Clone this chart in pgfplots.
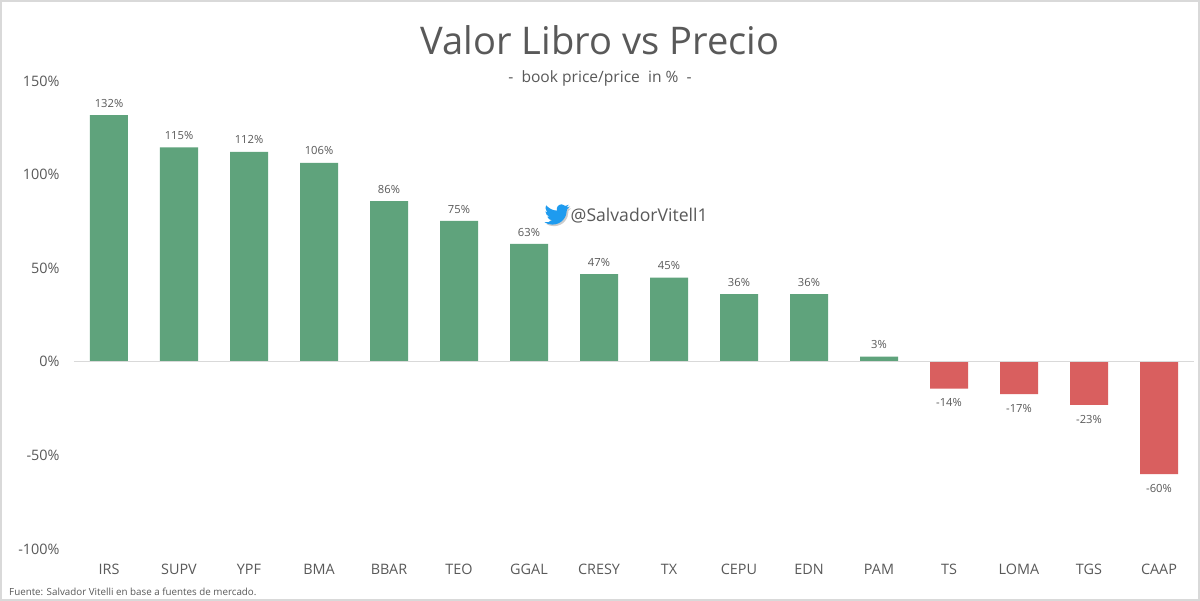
\documentclass[border=0pt]{standalone}
\usepackage{pgfplots}
\pgfplotsset{compat=1.18}
\usepackage{fontspec}
\setmainfont{Open Sans}
\usetikzlibrary{svg.path}
\definecolor{gbar}{HTML}{5FA37C}
\definecolor{rbar}{HTML}{D95F5F}
\definecolor{txt}{HTML}{595959}
\definecolor{bird}{HTML}{1E9BEF}
\begin{document}
\begin{tikzpicture}[x=1pt,y=1pt]
\useasboundingbox (0,0) rectangle (1200,601);
\fill[white] (0,0) rectangle (1200,601);
\begin{axis}[
  at={(74pt,52pt)},anchor=south west,
  scale only axis,width=1120pt,height=468pt,
  xmin=-0.5,xmax=15.5,ymin=-100,ymax=150,
  axis line style={draw=none},
  major tick length=0pt,
  clip=false,
  xtick={0,...,15},
  xticklabels={IRS,SUPV,YPF,BMA,BBAR,TEO,GGAL,CRESY,TX,CEPU,EDN,PAM,TS,LOMA,TGS,CAAP},
  ytick={-100,-50,0,50,100,150},
  yticklabels={-100\%,-50\%,0\%,50\%,100\%,150\%},
  tick label style={font=\fontsize{14.4}{16}\selectfont,text=txt},
  x tick label style={yshift=-12pt},
  y tick label style={xshift=-11pt},
  point meta=explicit symbolic,
]
\addplot[ybar,bar width=38pt,bar shift=0pt,fill=gbar,draw=none,
  nodes near coords,
  nodes near coords style={font=\fontsize{11.2}{13}\selectfont,text=txt,anchor=south,inner sep=0pt,yshift=7.5pt}] coordinates {
 (0,131.7) [132\%]
 (1,114.5) [115\%]
 (2,112.2) [112\%]
 (3,106.3) [106\%]
 (4,85.8) [86\%]
 (5,75.3) [75\%]
 (6,63) [63\%]
 (7,46.8) [47\%]
 (8,45) [45\%]
 (9,36.2) [36\%]
 (10,36.2) [36\%]
 (11,2.8) [3\%]
};
\addplot[ybar,bar width=38pt,bar shift=0pt,fill=rbar,draw=none,
  nodes near coords,
  nodes near coords style={font=\fontsize{11.2}{13}\selectfont,text=txt,anchor=north,inner sep=0pt,yshift=-10pt}] coordinates {
 (12,-14.3) [-14\%]
 (13,-17.3) [-17\%]
 (14,-23) [-23\%]
 (15,-60) [-60\%]
};
\addplot[sharp plot,no markers,draw=black!15,line width=1pt,forget plot] coordinates {(-0.5,0) (15.5,0)};
\end{axis}
\node[text=txt,font=\fontsize{38.1}{46}\selectfont] at (600,560.5) {Valor Libro vs Precio};
\node[text=txt,font=\fontsize{15.6}{18}\selectfont] at (600,522.5) {-\ \ book price/price\ \ in \%\ \ -};
\node[text=txt,font=\fontsize{17.6}{20}\selectfont,anchor=west,inner sep=0pt] at (570.5,385.5) {@SalvadorVitell1};
\node[text=txt,font=\fontsize{9.8}{12}\selectfont,anchor=west,inner sep=0pt] at (9,9) {Fuente: Salvador Vitelli en base a fuentes de mercado.};
\begin{scope}[shift={(544.5,399)},yscale=-1,scale=1.04]
\fill[black!20,shift={(1.5,1.5)}] svg {M23.953 4.57c-.885.392-1.83.656-2.825.775 1.014-.611 1.794-1.574 2.163-2.723-.951.555-2.005.959-3.127 1.184-.896-.959-2.173-1.559-3.591-1.559-3.173 0-5.515 2.966-4.793 6.041C7.69 8.095 4.067 6.13 1.64 3.162c-.427.722-.666 1.561-.666 2.475 0 1.71.87 3.213 2.188 4.096-.807-.026-1.566-.248-2.228-.616v.06c0 2.385 1.693 4.374 3.946 4.827-.72.195-1.48.225-2.212.085.636 1.948 2.448 3.37 4.604 3.417-2.07 1.623-4.678 2.348-7.29 2.04 2.18 1.394 4.768 2.209 7.557 2.209 9.054 0 13.999-7.496 13.999-13.985 0-.21 0-.42-.015-.63.961-.689 1.8-1.56 2.46-2.548z};
\fill[bird] svg {M23.953 4.57c-.885.392-1.83.656-2.825.775 1.014-.611 1.794-1.574 2.163-2.723-.951.555-2.005.959-3.127 1.184-.896-.959-2.173-1.559-3.591-1.559-3.173 0-5.515 2.966-4.793 6.041C7.69 8.095 4.067 6.13 1.64 3.162c-.427.722-.666 1.561-.666 2.475 0 1.71.87 3.213 2.188 4.096-.807-.026-1.566-.248-2.228-.616v.06c0 2.385 1.693 4.374 3.946 4.827-.72.195-1.48.225-2.212.085.636 1.948 2.448 3.37 4.604 3.417-2.07 1.623-4.678 2.348-7.29 2.04 2.18 1.394 4.768 2.209 7.557 2.209 9.054 0 13.999-7.496 13.999-13.985 0-.21 0-.42-.015-.63.961-.689 1.8-1.56 2.46-2.548z};
\end{scope}
\draw[black!15,line width=2pt] (1,1) rectangle (1199,600);
\end{tikzpicture}
\end{document}
